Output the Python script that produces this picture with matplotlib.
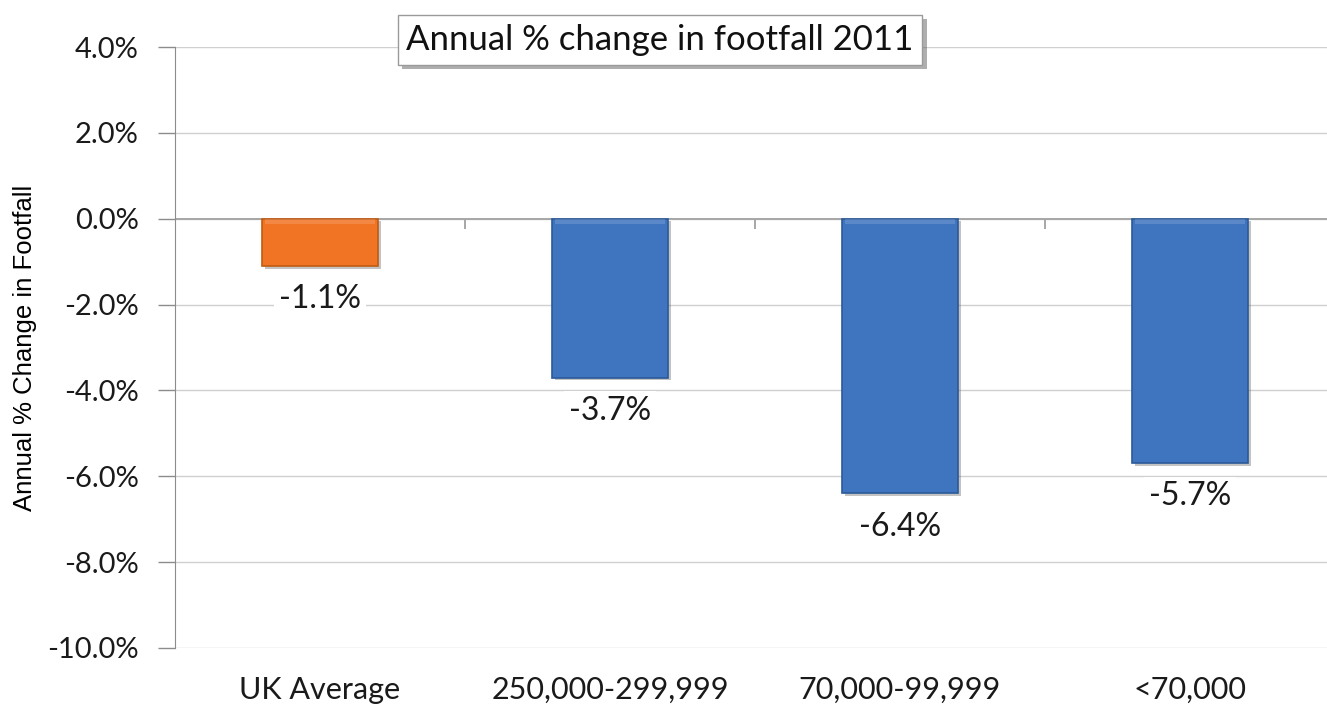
import matplotlib
matplotlib.use("Agg")
import matplotlib.pyplot as plt
import matplotlib.patheffects as pe
import numpy as np

categories = ["UK Average", "250,000-299,999", "70,000-99,999", "<70,000"]
values = [-1.1, -3.7, -6.4, -5.7]
bar_colors = ["#f07424", "#3f74bf", "#3f74bf", "#3f74bf"]
edge_colors = ["#c25a12", "#2b5a9a", "#2b5a9a", "#2b5a9a"]
y_ticks = [4.0, 2.0, 0.0, -2.0, -4.0, -6.0, -8.0, -10.0]
title = "Annual % change in footfall 2011"
y_label = "Annual % Change in Footfall"

plt.rcParams["font.family"] = ["Lato", "DejaVu Sans"]

fig = plt.figure(figsize=(13.27, 7.09), dpi=100)
ax = fig.add_axes([175 / 1327, 61 / 709, 1160 / 1327, 601 / 709])

x = np.arange(len(categories))
bars = ax.bar(x, values, width=0.4, color=bar_colors, edgecolor=edge_colors,
              linewidth=1.2, zorder=3)
for b in bars:
    b.set_path_effects([pe.SimplePatchShadow(offset=(2, -2), alpha=0.35, shadow_rgbFace="#555555"),
                        pe.Normal()])

# soft bevel highlight along the top of each bar
for xi in x:
    ax.bar(xi, -0.12, width=0.38, bottom=0, color="white", alpha=0.15, linewidth=0, zorder=4)

ax.set_xlim(-0.5, len(categories) - 0.5)
ax.set_ylim(-10, 4)
ax.set_yticks(y_ticks)
ax.set_yticklabels([f"{t:.1f}%" for t in y_ticks], fontsize=21, color="#1a1a1a")
ax.yaxis.grid(True, color="#d0d0d0", linewidth=1.0, zorder=0)
ax.set_axisbelow(True)

for s in ["top", "right", "bottom"]:
    ax.spines[s].set_visible(False)
ax.spines["left"].set_color("#8c8c8c")
ax.tick_params(axis="y", direction="out", length=12, width=1, color="#8c8c8c", pad=14)

# category labels below the plot area
ax.set_xticks(x)
ax.set_xticklabels(categories, fontsize=22, color="#1a1a1a")
ax.tick_params(axis="x", length=0, pad=20)

# category axis along zero with divider ticks
ax.axhline(0, color="#a6a6a6", linewidth=1.4, zorder=2)
bounds = x[:-1] + 0.5
ax.vlines(bounds, -0.25, 0, color="#a6a6a6", linewidth=1.4, zorder=2)

# value labels under each bar
for xi, v in zip(x, values):
    ax.annotate(f"{v:.1f}%", (xi, v), xytext=(0, -13), textcoords="offset points",
                ha="center", va="top", fontsize=23, color="#1a1a1a",
                bbox=dict(boxstyle="square,pad=0.15", fc="white", ec="none"), zorder=5)

ax.set_ylabel(y_label, fontsize=18.5, family=["Liberation Sans", "DejaVu Sans"])
ax.yaxis.set_label_coords(-138 / 1160, 0.5)

fig.text(660 / 1327, 1 - 40 / 709, title, ha="center", va="center", fontsize=25,
         color="#111111",
         bbox=dict(boxstyle="square,pad=0.25", fc="white", ec="#9a9a9a", lw=1.0,
                   path_effects=[pe.SimplePatchShadow(offset=(3, -3), alpha=0.45), pe.Normal()]))

fig.savefig("out.png", dpi=100)
